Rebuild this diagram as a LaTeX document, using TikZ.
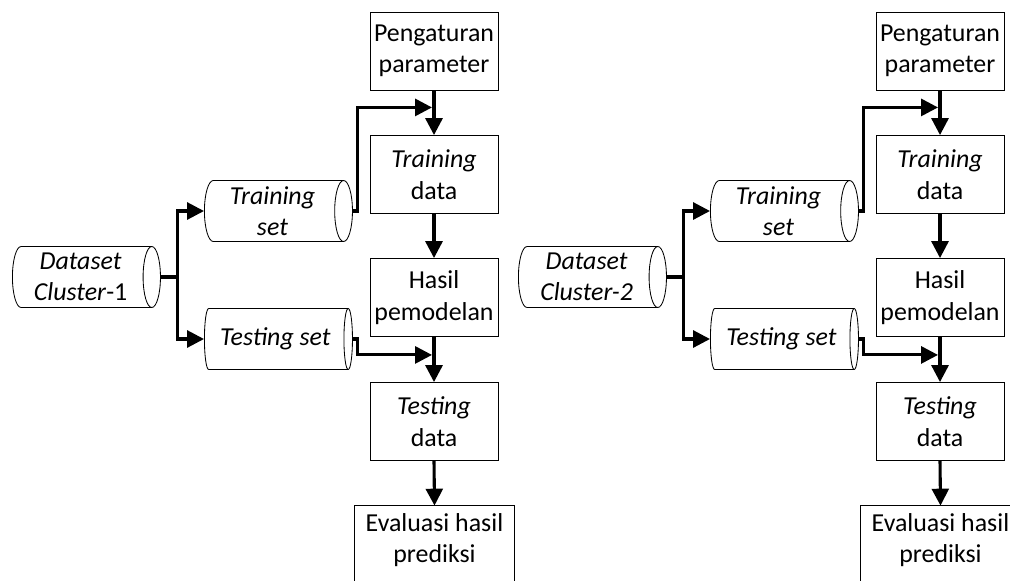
\documentclass[tikz,border=0pt]{standalone}
\usepackage{fontspec}
\setmainfont{Carlito}
\usetikzlibrary{arrows.meta, calc, shapes.geometric}

\tikzset{
  box/.style={draw, line width=0.6pt, minimum width=3.2cm, minimum height=1.95cm, align=center, inner sep=1pt},
  evabox/.style={box, draw=none, minimum width=3.975cm, minimum height=1.7cm},
  drum/.style={draw, cylinder, aspect=0.34, line width=0.6pt, minimum height=3.7cm, minimum width=1.525cm, align=center, inner sep=1pt, anchor=west},
  flow/.style={line width=2.2pt, -{Triangle[length=12pt,width=12pt]}},
}

\begin{document}
\begin{tikzpicture}[x=0.025cm, y=-0.025cm, font=\fontsize{18.4}{22.4}\selectfont]
  \clip (0,0) rectangle (1010,580);
  \foreach \i/\dx/\cl in {1/0/\textit{Cluster}-1, 2/506/\textit{Cluster-2}} {
    % data sets
    \node [drum] (ds\i) at (\dx+12,277) {\textit{Dataset}\\\cl};
    \node [drum] (trs\i) at (\dx+204,211) {\textit{Training}\\\textit{set}};
    \node [drum] (tss\i) at (\dx+204,339) {\textit{Testing set}};
    % process column
    \node [box] (par\i) at (\dx+434,51) {Pengaturan\\parameter};
    \node [box] (trd\i) at (\dx+434,174.5) {\textit{Training}\\data};
    \node [box] (has\i) at (\dx+434,297.5) {Hasil\\pemodelan};
    \node [box] (tsd\i) at (\dx+434,421.5) {\textit{Testing}\\data};
    \node [evabox] (eva\i) at (\dx+434.5,540) {Evaluasi hasil\\prediksi};
    \draw [line width=0.6pt] ($(eva\i.south west)+(0,30)$) |- (eva\i.north east) -- ($(eva\i.south east)+(0,30)$);
    % connectors
    \coordinate (br\i) at ($(ds\i.east)+(17,0)$);
    \draw [flow] (ds\i.east) -- (br\i) |- (trs\i.west);
    \draw [flow] (br\i) |- (tss\i.west);
    \draw [flow] (trs\i.east) -- ++(5,0) |- ($(par\i.south)+(-2,17)$);
    \draw [flow] (tss\i.east) -- ++(5,0) |- ($(has\i.south)+(-2,18)$);
    \draw [flow] (par\i.south) -- (trd\i.north);
    \draw [flow] (trd\i.south) -- (has\i.north);
    \draw [flow] (has\i.south) -- (tsd\i.north);
    \draw [flow] (tsd\i.south) -- (eva\i.north);
  }
\end{tikzpicture}
\end{document}
